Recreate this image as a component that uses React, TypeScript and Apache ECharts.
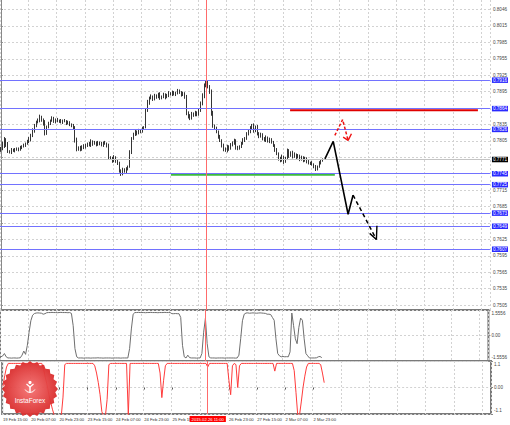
import React, { useEffect, useRef } from 'react';
import * as echarts from 'echarts';

// ---------- data ----------
const N_SLOTS = 277; // hourly slots on the time axis (data + empty right margin)
const TICK_STEP = 16; // one time label every 16 hourly bars
const tickLabels = [
  '19 Feb 15:00', '20 Feb 07:00', '20 Feb 23:00', '23 Feb 15:00', '24 Feb 07:00', '24 Feb 23:00',
  '25 Feb 15:00', '26 Feb 07:00', '26 Feb 23:00', '27 Feb 15:00', '2 Mar 07:00', '2 Mar 23:00',
];
const priceTicks = [
  0.7505, 0.7535, 0.7565, 0.7595, 0.7625, 0.7655, 0.7685, 0.7715, 0.7745, 0.7775,
  0.7805, 0.7835, 0.7865, 0.7895, 0.7925, 0.7955, 0.7985, 0.8015, 0.8046,
];
const priceMin = 0.7496;
const priceMax = 0.80625;

const firstOpen = 0.7789;
const closes = [
  0.7791, 0.7797, 0.7808, 0.7800, 0.7786, 0.7784, 0.7789, 0.7787, 0.7789, 0.7791,
  0.7789, 0.7793, 0.7795, 0.7797, 0.7800, 0.7804, 0.7808, 0.7815, 0.7824, 0.7833,
  0.7839, 0.7842, 0.7848, 0.7844, 0.7839, 0.7819, 0.7830, 0.7837, 0.7842, 0.7846,
  0.7841, 0.7844, 0.7841, 0.7842, 0.7839, 0.7842, 0.7841, 0.7837, 0.7839, 0.7835,
  0.7833, 0.7830, 0.7808, 0.7789, 0.7793, 0.7789, 0.7795, 0.7793, 0.7797, 0.7800,
  0.7797, 0.7804, 0.7800, 0.7802, 0.7798, 0.7802, 0.7800, 0.7797, 0.7802, 0.7800,
  0.7797, 0.7775, 0.7773, 0.7769, 0.7775, 0.7769, 0.7764, 0.7751, 0.7745, 0.7753,
  0.7749, 0.7754, 0.7758, 0.7784, 0.7809, 0.7817, 0.7822, 0.7819, 0.7824, 0.7822,
  0.7828, 0.7830, 0.7861, 0.7875, 0.7883, 0.7886, 0.7881, 0.7888, 0.7885, 0.7890,
  0.7883, 0.7886, 0.7890, 0.7885, 0.7888, 0.7892, 0.7890, 0.7894, 0.7890, 0.7892,
  0.7896, 0.7894, 0.7890, 0.7892, 0.7886, 0.7857, 0.7850, 0.7846, 0.7855, 0.7852,
  0.7857, 0.7853, 0.7861, 0.7872, 0.7886, 0.7905, 0.7912, 0.7905, 0.7896, 0.7857,
  0.7833, 0.7828, 0.7822, 0.7813, 0.7806, 0.7797, 0.7789, 0.7787, 0.7795, 0.7791,
  0.7798, 0.7800, 0.7806, 0.7793, 0.7791, 0.7795, 0.7800, 0.7806, 0.7809, 0.7817,
  0.7822, 0.7828, 0.7833, 0.7824, 0.7831, 0.7819, 0.7813, 0.7817, 0.7809, 0.7806,
  0.7811, 0.7804, 0.7808, 0.7802, 0.7797, 0.7789, 0.7782, 0.7773, 0.7769, 0.7776,
  0.7767, 0.7773, 0.7787, 0.7778, 0.7784, 0.7776, 0.7780, 0.7775, 0.7778, 0.7771,
  0.7775, 0.7769, 0.7773, 0.7767, 0.7764, 0.7765, 0.7762, 0.7758, 0.7754, 0.7758,
  0.7765, 0.7769, 0.7771,
];
// upper / lower shadows of each hourly candle, in pips
const upperWickPips = [
  3, 6, 4, 2, 3, 2, 3, 2, 3, 2,
  2, 3, 2, 3, 2, 3, 4, 3, 4, 3,
  3, 4, 5, 3, 2, 4, 3, 3, 2, 4,
  3, 2, 3, 2, 3, 2, 3, 2, 3, 2,
  2, 3, 2, 3, 2, 3, 2, 4, 3, 2,
  3, 4, 2, 3, 2, 3, 2, 3, 2, 3,
  2, 3, 2, 3, 4, 2, 2, 3, 2, 3,
  2, 3, 2, 4, 3, 3, 4, 2, 3, 2,
  3, 2, 4, 5, 3, 4, 2, 3, 2, 3,
  4, 2, 3, 2, 3, 4, 2, 3, 2, 3,
  4, 3, 2, 3, 2, 3, 2, 4, 3, 2,
  3, 2, 4, 5, 6, 5, 4, 3, 2, 3,
  3, 2, 3, 2, 3, 2, 3, 4, 3, 2,
  3, 4, 3, 2, 3, 2, 3, 4, 3, 4,
  3, 4, 3, 4, 2, 3, 2, 3, 2, 3,
  4, 2, 3, 2, 3, 2, 3, 2, 3, 4,
  2, 3, 4, 3, 2, 3, 4, 2, 3, 2,
  3, 2, 3, 2, 3, 2, 3, 2, 3, 2,
  3, 3, 2,
];
const lowerWickPips = [
  4, 3, 5, 6, 3, 2, 3, 2, 3, 2,
  3, 2, 3, 2, 3, 2, 3, 4, 3, 4,
  3, 2, 3, 4, 6, 4, 3, 2, 3, 2,
  3, 4, 2, 3, 2, 3, 2, 3, 2, 3,
  3, 4, 6, 3, 2, 3, 2, 3, 2, 3,
  2, 3, 4, 2, 3, 2, 3, 2, 3, 2,
  4, 3, 2, 4, 3, 4, 3, 4, 4, 3,
  2, 3, 3, 2, 3, 2, 3, 4, 2, 3,
  2, 3, 2, 3, 4, 2, 3, 2, 3, 2,
  3, 2, 3, 4, 2, 3, 2, 3, 2, 3,
  2, 3, 4, 3, 4, 5, 4, 3, 2, 3,
  2, 3, 2, 3, 2, 3, 2, 4, 5, 6,
  4, 3, 3, 4, 3, 4, 3, 2, 3, 4,
  2, 3, 2, 4, 3, 2, 3, 2, 3, 2,
  2, 3, 2, 4, 3, 4, 3, 2, 3, 2,
  3, 2, 3, 2, 3, 4, 3, 4, 3, 2,
  4, 2, 3, 4, 2, 3, 2, 3, 2, 3,
  2, 3, 2, 3, 2, 3, 2, 3, 4, 3,
  2, 3, 2,
];
const PIP = 0.0001;

const oscGray = [
  -1.30, -1.25, -1.10, -1.30, -1.37, -1.37, -1.38, -1.37, -1.37, -1.38,
  -1.37, -1.36, -1.20, -0.95, -1.15, -0.60, 0.20, 0.90, 1.24, 1.34,
  1.37, 1.38, 1.37, 1.36, 1.30, 1.33, 1.39, 1.40, 1.40, 1.41,
  1.40, 1.40, 1.39, 1.40, 1.41, 1.40, 1.40, 1.40, 1.39, 1.40,
  1.35, 0.60, -0.80, -1.30, -1.37, -1.37, -1.37, -1.38, -1.37, -1.37,
  -1.37, -1.38, -1.37, -1.37, -1.37, -1.36, -1.37, -1.37, -1.38, -1.37,
  -1.37, -1.37, -1.37, -1.38, -1.37, -1.37, -1.37, -1.37, -1.38, -1.37,
  -1.37, -1.37, -1.37, -0.80, 0.40, 1.30, 1.40, 1.40, 1.41, 1.40,
  1.40, 1.40, 1.39, 1.40, 1.40, 1.41, 1.40, 1.40, 1.40, 1.39,
  1.40, 1.40, 1.40, 1.41, 1.40, 1.40, 1.40, 1.33, 1.33, 1.34,
  1.33, 1.33, 1.10, -0.60, -1.30, -1.37, -1.20, -1.35, -1.37, -1.37,
  -1.37, -1.38, -1.37, -1.37, -1.10, 0.20, 1.05, -0.50, -1.30, -1.37,
  -1.37, -1.37, -1.38, -1.37, -1.37, -1.37, -1.37, -1.38, -1.37, -1.37,
  -1.37, -1.37, -1.37, -1.38, -1.37, -1.20, -0.20, 0.90, 1.30, 1.37,
  1.38, 1.36, 1.37, 1.38, 1.37, 1.36, 1.37, 1.38, 1.37, 1.36,
  1.35, 1.30, 1.30, 1.28, 1.10, 0.93, -0.20, -1.10, -1.24, -1.30,
  -1.28, -1.30, -1.29, -1.30, -1.00, 1.37, 0.60, -0.20, -0.50, 0.50,
  1.06, 0.93, -0.20, -1.10, -1.24, -1.37, -1.37, -1.37, -1.37, -1.36,
  -1.30, -1.28, -1.35,
];

const oscRed = [
  0.05, 0.50, 0.85, 1.00, 1.00, 1.00, 1.00, 1.00, 1.00, 1.00,
  1.00, 1.00, 1.00, 1.00, 1.00, 1.00, 1.00, 1.00, 1.00, 1.00,
  1.00, 1.00, 1.00, 0.76, 0.40, 0.10, -0.30, -0.60, -0.90, -1.15,
  -1.20, -1.25, -1.25, -1.20, -0.40, 0.95, 1.00, 1.00, 1.00, 1.00,
  1.00, 1.00, 1.00, 1.00, 1.00, 1.00, 1.00, 1.00, 1.00, 1.00,
  1.00, 1.00, 0.90, 0.60, 0.20, -0.30, -1.00, -1.20, -1.20, -0.50,
  0.95, 1.00, 1.00, 1.00, 1.00, 1.00, 1.00, 1.00, 1.00, 1.00,
  1.00, -1.15, 1.00, 1.00, 1.00, 1.00, 1.00, 1.00, 1.00, 1.00,
  1.00, 1.00, 1.00, 1.00, 1.00, 1.00, 1.00, 1.00, 1.00, 0.60,
  -0.42, 0.30, 0.90, 1.00, 1.00, 1.00, 1.00, 1.00, 1.00, 1.00,
  1.00, 1.00, 1.00, 1.00, 1.00, 1.00, 1.00, 1.00, 1.00, 1.00,
  1.00, 1.00, 1.00, 1.00, 1.00, 1.00, 0.85, 1.00, 1.00, 1.00,
  1.00, 1.00, 1.00, 1.00, 1.00, 1.00, 1.00, 1.00, 0.30, -0.30,
  0.90, 1.00, 0.95, 0.00, 0.90, 1.00, 1.00, 1.00, 1.00, 1.00,
  1.00, 1.00, 1.00, 1.00, 1.00, 1.00, 1.00, 1.00, 1.00, 1.00,
  1.00, 1.00, 1.00, 1.00, 0.68, 1.00, 1.00, 1.00, 1.00, 1.00,
  1.00, 1.00, 1.00, 1.00, 1.00, 0.70, -0.20, -1.15, -1.15, -0.60,
  0.00, 0.47, 0.85, 1.00, 1.00, 1.00, 1.00, 1.00, 1.00, 1.00,
  0.95, 0.60, 0.20,
];

// horizontal support / resistance levels (blue)
const blueLevels = [0.7916, 0.7864, 0.7826, 0.7745, 0.7725, 0.7673, 0.7649, 0.7607];
const currentPrice = 0.7771;
const cursorIndex = 116;
const cursorLabel = '2015.02.26 11:00';

// drawn objects, in (bar index, price)
const redLevelX = [163.5, 269.7];
const redLevelPrice = 0.7861;
const greenLevelX = [96.1, 188.8];
const greenLevelPrice = 0.7743;
const blackSolidX = [183.2, 187.9, 196.3, 199.1];
const blackSolidY = [0.7772, 0.7804, 0.7671, 0.7706];
const blackDashX = [199.1, 212.3];
const blackDashY = [0.7706, 0.7625];
const blackArrowX = [208.5, 212.3, 212.6];
const blackArrowY = [0.7636, 0.7625, 0.7650];
const redDashX = [188.8, 193.2, 196.3];
const redDashY = [0.7815, 0.7844, 0.7806];
const redArrowX = [193.5, 196.3, 198.2];
const redArrowY = [0.7812, 0.7806, 0.7818];

// ---------- helpers ----------
const FONT = 'Liberation Sans, Arial, sans-serif';
const slots = Array.from({ length: N_SLOTS }, (_, i) => String(i));
const pairs = (xs: number[], ys: number[]) => xs.map((x, i) => [x, ys[i]]);
const lastLabelIndex = (tickLabels.length - 1) * TICK_STEP;
const boxedPrices = [...blueLevels, currentPrice];

function catAxis(gridIndex: number, withLabels: boolean) {
  const shown = (i: number) => i % TICK_STEP === 0 && i <= lastLabelIndex && Math.abs(i - cursorIndex) > 8;
  return {
    type: 'category',
    gridIndex,
    data: slots,
    boundaryGap: true,
    axisLine: { show: false },
    axisTick: withLabels
      ? { show: true, alignWithLabel: true, length: 2, interval: shown, lineStyle: { color: '#555' } }
      : { show: false },
    axisLabel: withLabels
      ? {
          show: true,
          interval: shown,
          formatter: (_v: string, i: number) => tickLabels[i / TICK_STEP] ?? '',
          align: 'left',
          fontSize: 4.2,
          color: '#333',
          margin: 3,
          fontFamily: FONT,
        }
      : { show: false },
    splitLine: {
      show: true,
      interval: (i: number) => i % TICK_STEP === 0,
      lineStyle: { color: '#d2d2d2', type: [2, 2], width: 1 },
    },
  };
}

const axisLabelBase = { fontSize: 4.6, color: '#444', margin: 3, fontFamily: FONT };

export default function App() {
  const ref = useRef<HTMLDivElement>(null);

  useEffect(() => {
    document.body.style.margin = '0';
    if (!ref.current) return;
    const chart = echarts.init(ref.current, undefined, { renderer: 'svg' });

    const candles = closes.map((c, i) => {
      const o = i === 0 ? firstOpen : closes[i - 1];
      return [o, c, Math.min(o, c) - lowerWickPips[i] * PIP, Math.max(o, c) + upperWickPips[i] * PIP];
    });

    const levelLabel = (bg: string) => ({
      show: true,
      position: 'end',
      distance: 2,
      backgroundColor: bg,
      color: '#fff',
      fontSize: 4.6,
      fontFamily: FONT,
      padding: [0.5, 1, 0, 1],
    });

    const cursorLine = { color: '#ff6b6b', width: 1, type: 'solid' };

    // InstaForex badge (decoration)
    const badge: number[][] = [];
    const bcx = 30;
    const bcy = 389;
    for (let k = 0; k < 48; k++) {
      const r = k % 2 === 0 ? 28 : 25.5;
      const a = (k * Math.PI) / 24;
      badge.push([bcx + r * Math.cos(a), bcy + r * Math.sin(a)]);
    }

    const option: any = {
      animation: false,
      backgroundColor: '#ffffff',
      textStyle: { fontFamily: FONT },
      grid: [
        { left: -2, right: 19, top: 0, height: 310, show: false },
        { left: -2, right: 19, top: 310, height: 51, show: true, borderColor: '#7a7a7a', borderWidth: 2 },
        { left: -2, right: 19, top: 361, height: 53, show: true, borderColor: '#7a7a7a', borderWidth: 2 },
      ],
      xAxis: [
        catAxis(0, false),
        catAxis(1, false),
        catAxis(2, true),
        { type: 'value', gridIndex: 0, min: -0.5, max: N_SLOTS - 0.5, show: false },
      ],
      yAxis: [
        {
          type: 'value',
          gridIndex: 0,
          position: 'right',
          min: priceMin,
          max: priceMax,
          axisLine: { show: true, lineStyle: { color: '#888', width: 1 } },
          axisTick: { show: true, customValues: priceTicks, length: 2, lineStyle: { color: '#888' } },
          axisLabel: {
            ...axisLabelBase,
            customValues: priceTicks,
            formatter: (v: number) => (boxedPrices.some((b) => Math.abs(b - v) < 0.00075) ? '' : v.toFixed(4)),
          },
          splitLine: { show: true, lineStyle: { color: '#d2d2d2', type: [2, 2], width: 1 } },
        },
        {
          type: 'value',
          gridIndex: 1,
          position: 'right',
          min: -1.5556,
          max: 1.5556,
          axisLine: { show: false },
          axisTick: { show: true, customValues: [-1.5556, 0, 1.5556], length: 2, lineStyle: { color: '#888' } },
          axisLabel: {
            ...axisLabelBase,
            customValues: [-1.5556, 0, 1.5556],
            formatter: (v: number) => (v > 0.1 ? '{t|1.5556}' : v < -0.1 ? '{b|-1.5556}' : '0.00'),
            rich: {
              t: { fontSize: 4.6, padding: [7, 0, 0, 0], color: '#444', fontFamily: FONT },
              b: { fontSize: 4.6, padding: [0, 0, 7, 0], color: '#444', fontFamily: FONT },
            },
          },
          splitLine: { show: true, lineStyle: { color: '#d2d2d2', type: [2, 2], width: 1 } },
        },
        {
          type: 'value',
          gridIndex: 2,
          position: 'right',
          min: -1.1,
          max: 1.1,
          axisLine: { show: false },
          axisTick: { show: true, customValues: [-1.1, 0, 1.1], length: 2, lineStyle: { color: '#888' } },
          axisLabel: {
            ...axisLabelBase,
            customValues: [-1.1, 0, 1.1],
            formatter: (v: number) => (v > 0.1 ? '{t|1.1}' : v < -0.1 ? '{b|-1.1}' : '0.00'),
            rich: {
              t: { fontSize: 4.6, padding: [7, 0, 0, 0], color: '#444', fontFamily: FONT },
              b: { fontSize: 4.6, padding: [0, 0, 7, 0], color: '#444', fontFamily: FONT },
            },
          },
          splitLine: { show: true, lineStyle: { color: '#d2d2d2', type: [2, 2], width: 1 } },
        },
      ],
      series: [
        {
          type: 'candlestick',
          xAxisIndex: 0,
          yAxisIndex: 0,
          data: candles,
          barWidth: 1.3,
          itemStyle: { color: '#1e1e1e', color0: '#1e1e1e', borderColor: '#1e1e1e', borderColor0: '#1e1e1e', borderWidth: 0.9 },
          z: 3,
        },
        {
          // green level plus the blue levels, current price and cursor line
          type: 'line',
          xAxisIndex: 3,
          yAxisIndex: 0,
          data: greenLevelX.map((x) => [x, greenLevelPrice]),
          symbol: 'none',
          lineStyle: { color: '#3dbb3d', width: 2 },
          z: 4,
          markLine: {
            silent: true,
            symbol: 'none',
            animation: false,
            precision: 5,
            data: [
              ...blueLevels.map((v) => ({
                yAxis: v,
                lineStyle: { color: '#7272ff', width: 1, type: 'solid' },
                label: { ...levelLabel('#2a2aff'), formatter: v.toFixed(4) },
              })),
              {
                yAxis: currentPrice,
                lineStyle: { color: '#c4c4c4', width: 1, type: 'solid' },
                label: { ...levelLabel('#000'), formatter: currentPrice.toFixed(4) },
              },
              { xAxis: cursorIndex, lineStyle: cursorLine, label: { show: false } },
            ],
          },
        },
        {
          type: 'line',
          xAxisIndex: 3,
          yAxisIndex: 0,
          data: redLevelX.map((x) => [x, redLevelPrice]),
          symbol: 'none',
          lineStyle: { color: '#e00000', width: 2 },
          z: 4,
        },
        {
          type: 'line',
          xAxisIndex: 3,
          yAxisIndex: 0,
          data: pairs(blackSolidX, blackSolidY),
          symbol: 'none',
          lineStyle: { color: '#000', width: 1.6 },
          z: 5,
        },
        {
          type: 'line',
          xAxisIndex: 3,
          yAxisIndex: 0,
          data: pairs(blackDashX, blackDashY),
          symbol: 'none',
          lineStyle: { color: '#000', width: 1.5, type: [4, 3] },
          z: 5,
        },
        {
          type: 'line',
          xAxisIndex: 3,
          yAxisIndex: 0,
          data: pairs(blackArrowX, blackArrowY),
          symbol: 'none',
          lineStyle: { color: '#000', width: 1.4 },
          z: 5,
        },
        {
          type: 'line',
          xAxisIndex: 3,
          yAxisIndex: 0,
          data: pairs(redDashX, redDashY),
          symbol: 'none',
          lineStyle: { color: '#ee1111', width: 1.5, type: [3, 2] },
          z: 5,
        },
        {
          type: 'line',
          xAxisIndex: 3,
          yAxisIndex: 0,
          data: pairs(redArrowX, redArrowY),
          symbol: 'none',
          lineStyle: { color: '#ee1111', width: 1.4 },
          z: 5,
        },
        {
          type: 'line',
          xAxisIndex: 1,
          yAxisIndex: 1,
          data: oscGray,
          symbol: 'none',
          lineStyle: { color: '#6e6e6e', width: 1 },
          markLine: {
            silent: true,
            symbol: 'none',
            animation: false,
            data: [{ xAxis: cursorIndex, lineStyle: cursorLine, label: { show: false } }],
          },
        },
        {
          type: 'line',
          xAxisIndex: 2,
          yAxisIndex: 2,
          data: oscRed,
          symbol: 'none',
          lineStyle: { color: '#ff3b3b', width: 1 },
          markLine: {
            silent: true,
            symbol: 'none',
            animation: false,
            data: [
              {
                xAxis: cursorIndex,
                lineStyle: cursorLine,
                label: {
                  show: true,
                  position: 'start',
                  distance: 2,
                  formatter: cursorLabel,
                  backgroundColor: '#ff0000',
                  color: '#fff',
                  fontSize: 4.2,
                  fontFamily: FONT,
                  padding: [1.5, 2, 0.5, 2],
                },
              },
            ],
          },
        },
      ],
      graphic: [
        {
          type: 'polygon',
          z: 100,
          shape: { points: badge },
          style: {
            fill: new echarts.graphic.RadialGradient(0.5, 0.5, 0.5, [
              { offset: 0, color: '#f47272' },
              { offset: 1, color: '#d92b2b' },
            ]),
            opacity: 0.95,
          },
        },
        { type: 'circle', z: 101, shape: { cx: 30, cy: 382.5, r: 1.6 }, style: { fill: '#fff' } },
        { type: 'polyline', z: 101, shape: { points: [[26.5, 384], [30, 387], [33.5, 384]] }, style: { stroke: '#fff', lineWidth: 1.2, fill: null } },
        { type: 'line', z: 101, shape: { x1: 30, y1: 386, x2: 30, y2: 392.5 }, style: { stroke: '#fff', lineWidth: 1.4 } },
        { type: 'arc', z: 101, shape: { cx: 30, cy: 387, r: 5.5, startAngle: Math.PI * 0.15, endAngle: Math.PI * 0.85 }, style: { stroke: '#fff', lineWidth: 1, fill: null } },
        {
          type: 'text',
          z: 101,
          x: 30,
          y: 400,
          style: { text: 'InstaForex', fill: '#fff', fontSize: 6.5, fontFamily: FONT, align: 'center', verticalAlign: 'middle' },
        },
      ],
    };

    chart.setOption(option);
    return () => chart.dispose();
  }, []);

  return <div ref={ref} style={{ width: 510, height: 425 }} />;
}
